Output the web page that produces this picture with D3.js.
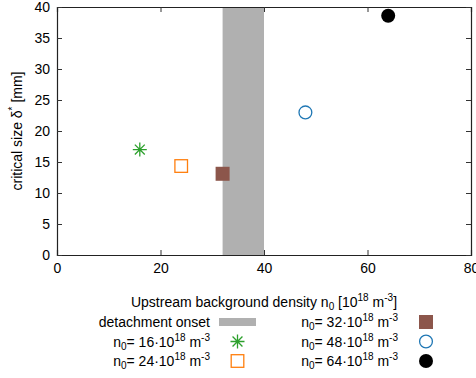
<!DOCTYPE html>
<html>
<head>
<meta charset="utf-8">
<script src="https://cdn.jsdelivr.net/npm/d3@7"></script>
<style>
  body { margin: 0; background: #fff; }
  svg text { font-family: "Liberation Sans", Arial, sans-serif; fill: #000; }
</style>
</head>
<body>
<div id="chart"></div>
<script>
const width = 476;
const height = 378;
const margin = {top: 7, right: 5, bottom: 123, left: 57};

// data
const densities = [16, 24, 32, 48, 64];
const critSize = [17.0, 14.35, 13.1, 23.0, 38.6];
const markers = ["star", "openSquare", "filledSquare", "openCircle", "filledCircle"];
const colors = ["#2ca02c", "#ff7f0e", "#8c564b", "#1f77b4", "#000000"];
const onset = [32, 40];
const xTicks = [0, 20, 40, 60, 80];
const yTicks = [0, 5, 10, 15, 20, 25, 30, 35, 40];

const svg = d3.select("#chart").append("svg")
    .attr("width", width)
    .attr("height", height);

const x = d3.scaleLinear().domain([0, 80]).range([margin.left, 471]);
const y = d3.scaleLinear().domain([0, 40]).range([255, margin.top]);

// detachment band
svg.append("rect")
    .attr("x", x(onset[0]))
    .attr("y", y(40))
    .attr("width", x(onset[1]) - x(onset[0]))
    .attr("height", y(0) - y(40))
    .attr("fill", "#b0b0b0");

// axes, ticks pointing inward on all four sides
const tk = 5;
const axisB = svg.append("g").attr("transform", `translate(0,${y(0)})`)
    .call(d3.axisBottom(x).tickValues(xTicks).tickSize(-tk).tickPadding(8));
const axisT = svg.append("g").attr("transform", `translate(0,${y(40)})`)
    .call(d3.axisTop(x).tickValues(xTicks).tickSize(-tk).tickFormat(""));
const axisL = svg.append("g").attr("transform", `translate(${x(0)},0)`)
    .call(d3.axisLeft(y).tickValues(yTicks).tickSize(-tk).tickPadding(7));
const axisR = svg.append("g").attr("transform", `translate(${x(80)},0)`)
    .call(d3.axisRight(y).tickValues(yTicks).tickSize(-tk).tickFormat(""));

[axisB, axisT, axisL, axisR].forEach(a => {
    a.select(".domain").attr("stroke", "#222").attr("stroke-width", 1.2);
    a.selectAll(".tick line").attr("stroke", "#333").attr("stroke-width", 1);
    a.selectAll("text").attr("font-size", 14).attr("fill", "#000")
        .attr("font-family", "Liberation Sans, Arial, sans-serif");
});

function drawMarker(g, type, color, cx, cy) {
    const s = 7;
    if (type === "star") {
        const path = d3.path();
        for (let k = 0; k < 4; k++) {
            const a = k * Math.PI / 4;
            path.moveTo(cx - s * Math.cos(a), cy - s * Math.sin(a));
            path.lineTo(cx + s * Math.cos(a), cy + s * Math.sin(a));
        }
        g.append("path").attr("d", path.toString()).attr("stroke", color).attr("stroke-width", 1.3).attr("fill", "none");
    } else if (type === "openSquare") {
        g.append("rect").attr("x", cx - 6.3).attr("y", cy - 6.3).attr("width", 12.6).attr("height", 12.6)
            .attr("fill", "none").attr("stroke", color).attr("stroke-width", 1.3);
    } else if (type === "filledSquare") {
        g.append("rect").attr("x", cx - 7).attr("y", cy - 7).attr("width", 14).attr("height", 14)
            .attr("fill", color);
    } else if (type === "openCircle") {
        g.append("circle").attr("cx", cx).attr("cy", cy).attr("r", 6.4)
            .attr("fill", "none").attr("stroke", color).attr("stroke-width", 1.3);
    } else {
        g.append("circle").attr("cx", cx).attr("cy", cy).attr("r", 7).attr("fill", color);
    }
}

const pts = svg.append("g");
densities.forEach((d, i) => drawMarker(pts, markers[i], colors[i], x(d), y(critSize[i])));

// axis titles
const yl = svg.append("text")
    .attr("transform", `translate(22,131) rotate(-90)`)
    .attr("text-anchor", "middle")
    .attr("font-size", 14);
yl.append("tspan").text("critical size δ");
yl.append("tspan").attr("dy", -6).attr("font-size", 10).text("*");
yl.append("tspan").attr("dy", 6).text(" [mm]");

const xl = svg.append("text")
    .attr("x", 264).attr("y", 307)
    .attr("text-anchor", "middle")
    .attr("font-size", 14);
xl.append("tspan").text("Upstream background density n");
xl.append("tspan").attr("dy", 3).attr("font-size", 10).text("0");
xl.append("tspan").attr("dy", -3).text(" [10");
xl.append("tspan").attr("dy", -6).attr("font-size", 10).text("18");
xl.append("tspan").attr("dy", 6).text(" m");
xl.append("tspan").attr("dy", -6).attr("font-size", 10).text("-3");
xl.append("tspan").attr("dy", 6).text("]");

// legend
function densityLabel(t, n, xr, yb) {
    t.attr("x", xr).attr("y", yb).attr("text-anchor", "end").attr("font-size", 14);
    t.append("tspan").text("n");
    t.append("tspan").attr("dy", 3).attr("font-size", 10).text("0");
    t.append("tspan").attr("dy", -3).text(`= ${n}·10`);
    t.append("tspan").attr("dy", -6).attr("font-size", 10).text("18");
    t.append("tspan").attr("dy", 6).text(" m");
    t.append("tspan").attr("dy", -6).attr("font-size", 10).text("-3");
}

const rowY = [322, 341.5, 361];
const leg = svg.append("g");
leg.append("text").attr("x", 210).attr("y", rowY[0] + 5).attr("text-anchor", "end")
    .attr("font-size", 14).text("detachment onset");
leg.append("rect").attr("x", 219).attr("y", rowY[0] - 4).attr("width", 37).attr("height", 8)
    .attr("fill", "#b0b0b0");

const legPos = [
    {col: 0, row: 1}, {col: 0, row: 2},
    {col: 1, row: 0}, {col: 1, row: 1}, {col: 1, row: 2}
];
densities.forEach((d, i) => {
    const p = legPos[i];
    const xr = p.col === 0 ? 210 : 398;
    const xm = p.col === 0 ? 237.5 : 426;
    densityLabel(leg.append("text"), d, xr, rowY[p.row] + 5);
    drawMarker(leg, markers[i], colors[i], xm, rowY[p.row]);
});
</script>
</body>
</html>
